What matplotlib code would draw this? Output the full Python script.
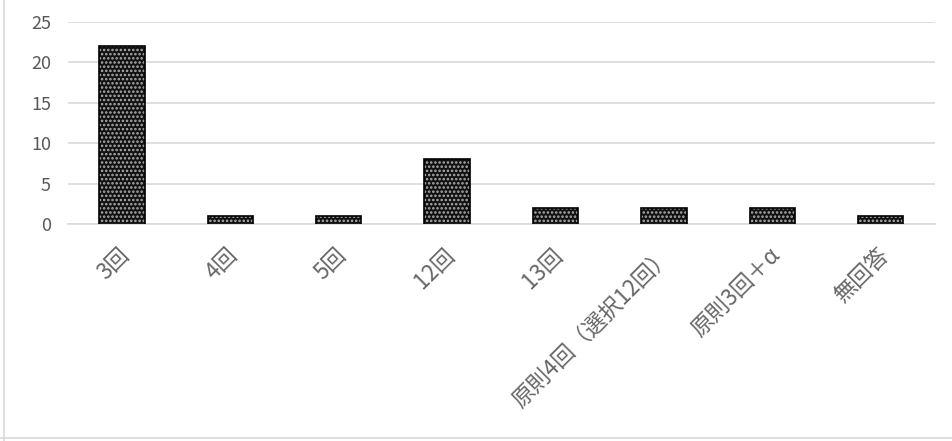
import matplotlib.pyplot as plt
import matplotlib.transforms as mtrans
from matplotlib.lines import Line2D

plt.rcParams['font.family'] = ['Noto Sans CJK JP', 'DejaVu Sans']
plt.rcParams['hatch.linewidth'] = 1.2

categories = ['3回', '4回', '5回', '12回', '13回', '原則4回（選択12回）', '原則3回＋α', '無回答']
counts = [22, 1, 1, 8, 2, 2, 2, 1]
yticks = [0, 5, 10, 15, 20, 25]

fig = plt.figure(figsize=(9.53, 4.41), dpi=100)
ax = fig.add_axes([0.071, 0.492, 0.91, 0.458])

x = list(range(len(categories)))
# dotted fill, then a plain black outline on top
ax.bar(x, counts, width=0.42, color='#111111', edgecolor='#b0b0b0', hatch='....',
       linewidth=0, zorder=2)
ax.bar(x, counts, width=0.42, fill=False, edgecolor='black', linewidth=1.2, zorder=3)

ax.set_ylim(0, 25)
ax.set_xlim(-0.5, len(categories) - 0.5)
ax.set_yticks(yticks)
ax.yaxis.grid(True, color='#d9d9d9', linewidth=1.2)
ax.set_axisbelow(True)
for s in ['top', 'right', 'left']:
    ax.spines[s].set_visible(False)
ax.spines['bottom'].set_color('#d9d9d9')
ax.spines['bottom'].set_linewidth(1.2)
ax.tick_params(axis='both', length=0, colors='#595959', labelsize=13)
ax.tick_params(axis='y', pad=12)
ax.tick_params(axis='x', pad=14, labelsize=16, labelcolor='#666666')
ax.set_xticks(x)
ax.set_xticklabels(categories, rotation=45, ha='right', rotation_mode='anchor')
shift = mtrans.ScaledTranslation(-4 / 100, 0, fig.dpi_scale_trans)
for lab in ax.get_xticklabels():
    lab.set_transform(lab.get_transform() + shift)

# chart area border (left and bottom visible)
fig.add_artist(Line2D([0.0045, 0.0045], [0, 1], color='#d9d9d9', lw=1.2,
                      transform=fig.transFigure))
fig.add_artist(Line2D([0, 1], [0.007, 0.007], color='#d9d9d9', lw=1.2,
                      transform=fig.transFigure))

fig.savefig('out.png', dpi=100)
